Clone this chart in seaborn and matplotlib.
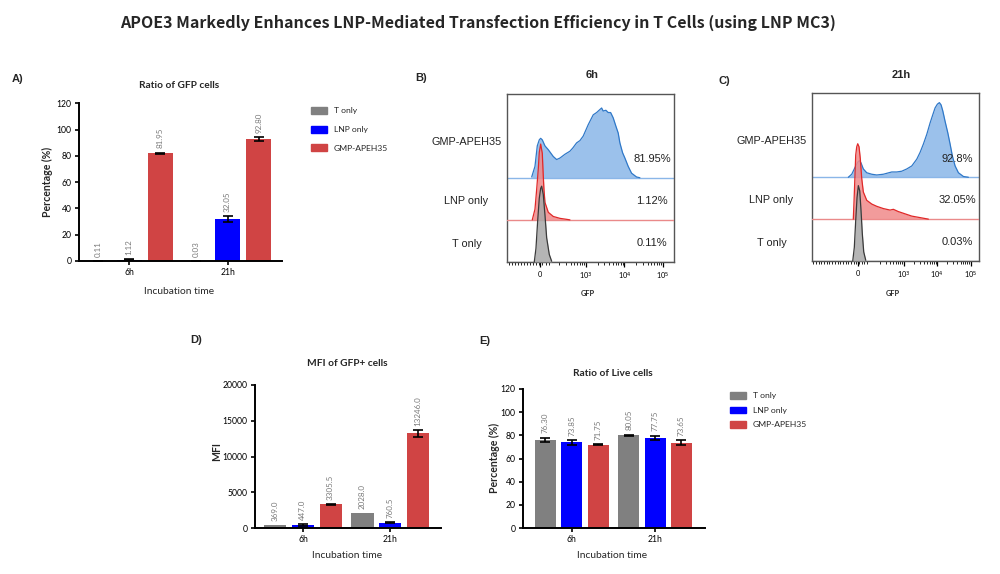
import numpy as np
import pandas as pd
import matplotlib
matplotlib.use("Agg")
import matplotlib.pyplot as plt
from matplotlib.patches import Patch
import seaborn as sns

# ---- bar chart data ----
times = ["6h", "21h"]
groups = ["T only", "LNP only", "GMP-APEH35"]
bar_colors = ["#808080", "#0000ff", "#d04444"]

gfp_ratio = {"T only": [0.11, 0.03], "LNP only": [1.12, 32.05], "GMP-APEH35": [81.95, 92.80]}
gfp_ratio_err = {"T only": [0.02, 0.01], "LNP only": [0.4, 2.4], "GMP-APEH35": [0.6, 1.4]}
gfp_ratio_lbl = {"T only": ["0.11", "0.03"], "LNP only": ["1.12", "32.05"], "GMP-APEH35": ["81.95", "92.80"]}

mfi = {"T only": [369.0, 2028.0], "LNP only": [447.0, 760.5], "GMP-APEH35": [3305.5, 13246.0]}
mfi_err = {"T only": [0, 0], "LNP only": [130, 90], "GMP-APEH35": [60, 500]}
mfi_lbl = {"T only": ["369.0", "2028.0"], "LNP only": ["447.0", "760.5"], "GMP-APEH35": ["3305.5", "13246.0"]}

live = {"T only": [76.30, 80.05], "LNP only": [73.85, 77.75], "GMP-APEH35": [71.75, 73.65]}
live_err = {"T only": [1.7, 0.6], "LNP only": [2.0, 2.1], "GMP-APEH35": [0.5, 2.2]}
live_lbl = {"T only": ["76.30", "80.05"], "LNP only": ["73.85", "77.75"], "GMP-APEH35": ["71.75", "73.65"]}

# ---- flow histograms (x in display decades, height in % of mode) ----
b_gmp_t = [1.59, 1.675, 1.735, 1.787, 1.823, 1.865, 1.935, 2.021, 2.151, 2.239, 2.325, 2.455,
           2.584, 2.655, 2.758, 2.844, 2.930, 3.060, 3.190, 3.278, 3.364, 3.408, 3.449, 3.519,
           3.579, 3.642, 3.709, 3.779, 3.839, 3.883, 3.953, 4.013, 4.099, 4.187, 4.317, 4.403]
b_gmp_pct = [1, 15, 42, 50, 52, 50, 42, 37, 28, 24, 26, 31, 35, 39, 46, 49, 55, 70, 83, 86,
             90, 92, 88, 89, 86, 86, 79, 68, 59, 46, 33, 26, 15, 6, 1, 0]
b_lnp_t = [1.605, 1.675, 1.719, 1.761, 1.787, 1.823, 1.865, 1.891, 1.909, 1.935, 2.021, 2.151,
           2.325, 2.499, 2.584]
b_lnp_pct = [0, 14, 40, 67, 89, 100, 88, 58, 40, 23, 10, 4.5, 2, 0.7, 0]
b_t_t = [1.657, 1.701, 1.745, 1.787, 1.823, 1.849, 1.891, 1.935, 1.979, 2.047, 2.109]
b_t_pct = [0, 18, 54, 84, 97, 100, 89, 62, 32, 10, 1]

c_gmp_t = [1.352, 1.454, 1.552, 1.633, 1.681, 1.731, 1.800, 1.901, 2.051, 2.200, 2.397, 2.648,
           2.797, 2.946, 3.096, 3.245, 3.394, 3.493, 3.591, 3.693, 3.791, 3.872, 3.940, 4.009,
           4.069, 4.119, 4.170, 4.239, 4.319, 4.388, 4.457, 4.537, 4.636, 4.785, 4.934]
c_gmp_pct = [0, 4, 13, 20, 22, 19, 11, 6, 4, 3, 4, 7, 7, 8, 11, 15, 24, 33, 44, 57, 72, 83,
             92, 97, 99, 96, 88, 74, 59, 44, 28, 15, 6, 1, 0]
c_lnp_t = [1.501, 1.522, 1.573, 1.603, 1.633, 1.672, 1.710, 1.752, 1.800, 1.901, 2.051, 2.200,
           2.397, 2.597, 2.696, 2.845, 3.045, 3.245, 3.493, 3.740]
c_lnp_pct = [0, 23, 85, 96, 100, 96, 80, 54, 36, 25, 20, 17, 14, 12, 13, 10, 7, 4, 2, 0]
c_t_t = [1.484, 1.531, 1.573, 1.612, 1.651, 1.693, 1.731, 1.770, 1.812, 1.872]
c_t_pct = [0, 18, 54, 84, 100, 93, 67, 36, 12, 1]

b_pcts = ["81.95%", "1.12%", "0.11%"]
c_pcts = ["92.8%", "32.05%", "0.03%"]

sns.set_style("ticks")
plt.rcParams["font.family"] = ["Lato", "DejaVu Sans"]

W, H = 1000, 574
fig = plt.figure(figsize=(10, 5.74), dpi=100)


def rect(l, t, r, b):
    return [l / W, 1 - b / H, (r - l) / W, (b - t) / H]


def ftext(px, py, s, **kw):
    fig.text(px / W, 1 - py / H, s, ha=kw.pop("ha", "center"), va=kw.pop("va", "center"), **kw)


def bar_panel(r, values, errs, labels, ylim, yticks, xlim, title, ylabel, title_xy, xlabel_xy, ylabel_xy):
    ax = fig.add_axes(r)
    df = pd.DataFrame([(t, g, values[g][i]) for g in groups for i, t in enumerate(times)],
                      columns=["time", "group", "value"])
    sns.barplot(data=df, x="time", y="value", hue="group", hue_order=groups, palette=bar_colors,
                width=0.95, gap=0.2, errorbar=None, saturation=1, linewidth=0, legend=False, ax=ax)
    bar_conts = list(ax.containers)[:len(groups)]
    for g, cont in zip(groups, bar_conts):
        for i, bar in enumerate(cont):
            cx = bar.get_x() + bar.get_width() / 2
            v, e = values[g][i], errs[g][i]
            if e > 0:
                ax.errorbar(cx, v, yerr=e, color="black", lw=1.2, capsize=3.8, capthick=1.2)
            ax.annotate(labels[g][i], (cx, v + e), xytext=(0, 3), textcoords="offset points",
                        rotation=90, ha="center", va="bottom", fontsize=5.8, color="#7a7a7a")
    ax.set_ylim(*ylim)
    ax.set_yticks(yticks)
    ax.set_xlim(*xlim)
    ax.set_xlabel("")
    ax.set_ylabel("")
    sns.despine(ax=ax)
    for s in ["left", "bottom"]:
        ax.spines[s].set_linewidth(1.4)
        ax.spines[s].set_color("black")
    ax.tick_params(axis="both", labelsize=6.2, width=1.2, length=3.2, colors="black", pad=2)
    ftext(*title_xy, title, fontsize=7.3, fontweight="bold")
    ftext(*xlabel_xy, "Incubation time", fontsize=7.4)
    ftext(*ylabel_xy, ylabel, fontsize=7.6, fontweight="bold", rotation=90)
    return ax


def legend_at(px, py, spacing):
    handles = [Patch(color=c) for c in bar_colors]
    fig.legend(handles, groups, loc="upper left", bbox_to_anchor=(px / W, 1 - py / H),
               frameon=False, fontsize=6.1, handlelength=1.9, handleheight=0.85,
               labelspacing=spacing, handletextpad=0.8, borderaxespad=0, borderpad=0)


# A
bar_panel(rect(79, 103.3, 281.7, 261), gfp_ratio, gfp_ratio_err, gfp_ratio_lbl,
          (0, 120), range(0, 121, 20), (-0.51, 1.55), "Ratio of GFP cells", "Percentage (%)",
          (179.5, 86), (179.3, 292), (47, 182))
legend_at(311, 107, 1.35)

# D
bar_panel(rect(255, 385, 440.7, 528), mfi, mfi_err, mfi_lbl,
          (0, 20000), range(0, 20001, 5000), (-0.55, 1.58), "MFI of GFP+ cells", "MFI",
          (347, 364), (346.7, 556), (216.7, 451.7))

# E
bar_panel(rect(522.7, 389, 705, 528), live, live_err, live_lbl,
          (0, 120), range(0, 121, 20), (-0.59, 1.6), "Ratio of Live cells", "Percentage (%)",
          (612.7, 373), (612, 555), (494, 458))
legend_at(730, 392, 0.85)


# flow panels
def flow_panel(r, curves, pcts, xlim, zero_t, title, title_xy, gfp_xy):
    ax = fig.add_axes(r)
    styles = [("#8ab6e8", "#2f78c8", "#8ab6e8", 2),
              ("#f08a8a", "#e02828", "#ea8a8a", 1),
              ("#a8a8a8", "#3a3a3a", "#888888", 0)]
    peak = 1.8
    for (xs, ps), (fc, ec, bc, off) in zip(curves, styles):
        xs = np.array(xs)
        ys = off + np.array(ps) * peak / 100
        ax.axhline(off, color=bc, lw=1.0, zorder=1 + 3 - off)
        ax.fill_between(xs, off, ys, color=fc, alpha=0.85, lw=0, zorder=2 + 3 - off)
        sns.lineplot(x=xs, y=ys, color=ec, lw=0.9, sort=False, ax=ax, zorder=3 + 3 - off)
    ax.set_xlim(*xlim)
    ax.set_ylim(0, 4)
    ax.set_yticks([])
    ax.set_xticks([zero_t, 3, 4, 5])
    ax.set_xticklabels(["0", "10$^3$", "10$^4$", "10$^5$"])
    minors = [np.log10(m * 10 ** k) for k in (2, 3, 4) for m in range(2, 10)]
    minors += list(np.arange(xlim[0] + 0.05, zero_t + 0.3, 0.08))
    ax.set_xticks([m for m in minors if xlim[0] < m < xlim[1]], minor=True)
    ax.tick_params(axis="x", which="major", labelsize=5.3, length=3.5, width=0.9, pad=3,
                   colors="black")
    ax.tick_params(axis="x", which="minor", length=1.8, width=0.6, colors="black")
    for s in ax.spines.values():
        s.set_color("#555555")
        s.set_linewidth(1.0)
    for lab, y in zip(["GMP-APEH35", "LNP only", "T only"], [2.86, 1.45, 0.42]):
        ax.text(-0.24, y, lab, transform=ax.get_yaxis_transform(), ha="center", va="center",
                fontsize=7.8, family="Liberation Sans", color="#222222")
    for p, y in zip(pcts, [2.44, 1.45, 0.45]):
        ax.text(0.87, y, p, transform=ax.get_yaxis_transform(), ha="center", va="center",
                fontsize=8, family="Liberation Sans", color="#222222", zorder=10)
    ftext(*title_xy, title, fontsize=8, fontweight="bold", family="Liberation Sans")
    ftext(*gfp_xy, "GFP", fontsize=5.3, fontweight="bold")
    return ax


flow_panel(rect(506.7, 93.5, 674, 262),
           [(b_gmp_t, b_gmp_pct), (b_lnp_t, b_lnp_pct), (b_t_t, b_t_pct)],
           b_pcts, (0.94, 5.29), 1.80, "6h", (591.7, 75), (588.3, 293))
flow_panel(rect(811.7, 93.5, 979, 261),
           [(c_gmp_t, c_gmp_pct), (c_lnp_t, c_lnp_pct), (c_t_t, c_t_pct)],
           c_pcts, (0.26, 5.25), 1.65, "21h", (901, 75), (892.7, 293))

# panel letters
for s, x, y in [("A)", 18, 79), ("B)", 421, 78), ("C)", 724, 81), ("D)", 196, 340), ("E)", 485, 341)]:
    ftext(x, y, s, fontsize=8, fontweight="bold", family="Liberation Sans")

ftext(478, 23, "APOE3 Markedly Enhances LNP-Mediated Transfection Efficiency in T Cells (using LNP MC3)",
      fontsize=11.5, fontweight="bold", family=["Noto Sans CJK SC", "DejaVu Sans"])

fig.savefig("out.png", dpi=100, facecolor="white")
